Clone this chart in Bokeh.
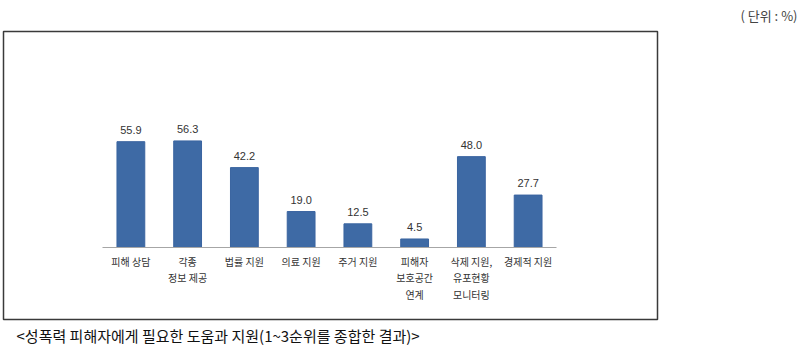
from bokeh.plotting import figure
from bokeh.models import Range1d, ColumnDataSource
from bokeh.core.properties import value
from bokeh.embed import file_html
from bokeh.resources import INLINE

# ---- data ----
categories = ["피해 상담", "각종\n정보 제공", "법률 지원", "의료 지원", "주거 지원",
              "피해자\n보호공간\n연계", "삭제 지원,\n유포현황\n모니터링", "경제적 지원"]
values = [55.9, 56.3, 42.2, 19.0, 12.5, 4.5, 48.0, 27.7]
value_labels = ["55.9", "56.3", "42.2", "19.0", "12.5", "4.5", "48.0", "27.7"]
unit_text = "( 단위 : %)"
caption_text = "<성폭력 피해자에게 필요한 도움과 지원(1~3순위를 종합한 결과)>"

# ---- layout constants (pixels) ----
W, H = 800, 356
AXIS_LEFT_PX = 102.0     # left end of category axis
STEP_PX = 56.75          # pixels per category
BASE_PX = 247.0          # baseline y (from top)
K = 1.893                # pixels per percent

def xd(px):
    return (px - AXIS_LEFT_PX) / STEP_PX

def yd(py):
    return (BASE_PX - py) / K

p = figure(width=W, height=H, output_backend="svg", toolbar_location=None,
           x_range=Range1d(xd(0), xd(W)), y_range=Range1d(yd(H), yd(0)),
           min_border=0, x_axis_type=None, y_axis_type=None)
p.outline_line_color = None
p.grid.visible = False
p.background_fill_color = "white"
p.border_fill_color = "white"

FONT_KR = value("Noto Sans CJK KR")

n = len(categories)
xs = [i + 0.5 for i in range(n)]
src = ColumnDataSource(dict(x=xs, top=values, cat=categories, lab=value_labels))

# outer box
p.quad(left=[xd(3)], right=[xd(657)], top=[yd(31)], bottom=[yd(319)],
       fill_color=None, line_color="#3a3a3a", line_width=1.5)

# bars
p.vbar(x="x", top="top", width=0.49, bottom=0, source=src,
       fill_color="#3E6AA5", line_color="#3A64A0", line_width=1)

# baseline
p.segment(x0=[0], x1=[n], y0=[0], y1=[0], line_color="#a6a6a6", line_width=1.2)

# value labels
p.text(x="x", y="top", text="lab", source=src, text_align="center",
       text_baseline="bottom", y_offset=-8, text_font=value("Liberation Sans"),
       text_font_size="11px", text_color="#333333")

# category labels
p.text(x="x", y=0, text="cat", source=src, text_align="center",
       text_baseline="top", y_offset=6, text_font=FONT_KR,
       text_font_size="10px", text_color="#333333", text_line_height=1.12)

# unit label
p.text(x=[xd(797)], y=[yd(15)], text=[unit_text], text_align="right",
       text_baseline="middle", text_font=FONT_KR, text_font_size="13px",
       text_color="#444444")

# caption
p.text(x=[xd(16)], y=[yd(335)], text=[caption_text], text_align="left",
       text_baseline="middle", text_font=FONT_KR, text_font_size="15px",
       text_color="#111111")

open("out.html", "w").write(file_html(p, INLINE))
